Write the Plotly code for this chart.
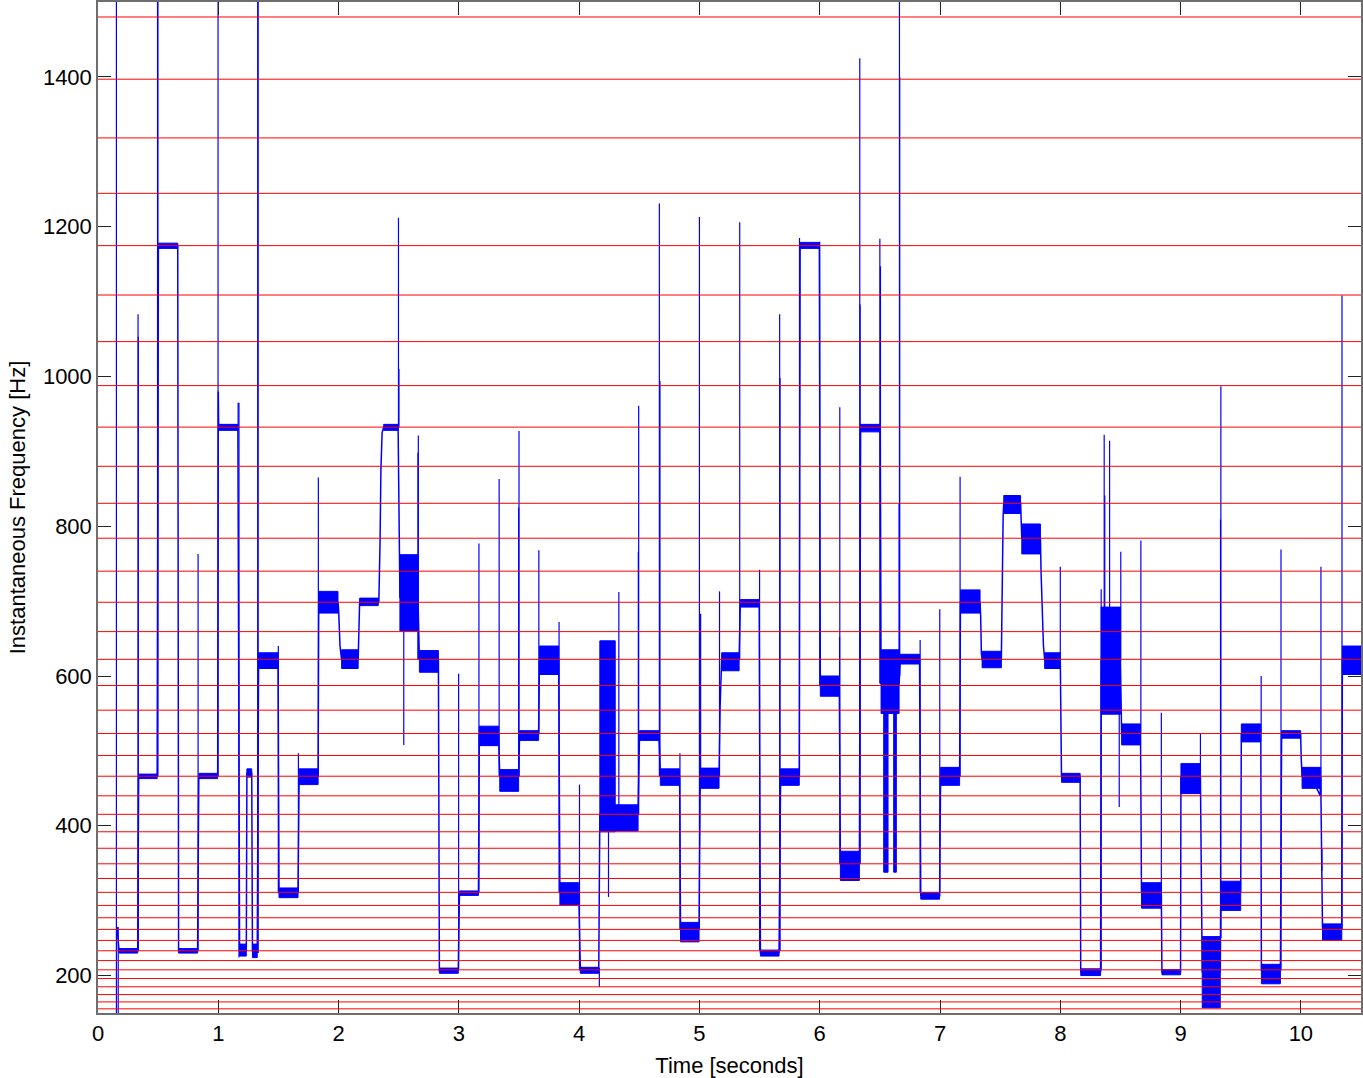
import plotly.graph_objects as go

# Equal-tempered note frequencies drawn as red reference lines (D#3 .. F#6)
note_lines_hz = [155.56, 164.81, 174.61, 185.00, 196.00, 207.65, 220.00, 233.08,
                 246.94, 261.63, 277.18, 293.66, 311.13, 329.63, 349.23, 369.99,
                 392.00, 415.30, 440.00, 466.16, 493.88, 523.25, 554.37, 587.33,
                 622.25, 659.26, 698.46, 739.99, 783.99, 830.61, 880.00, 932.33,
                 987.77, 1046.50, 1108.73, 1174.66, 1244.51, 1318.51, 1396.91, 1479.98]

# Sung notes: start [s], end [s], centre frequency [Hz], lower / upper edge of the vibrato band [Hz]
note_start = [0.175, 0.338, 0.502, 0.670, 0.838, 1.003, 1.177, 1.238, 1.284, 1.335,
              1.505, 1.672, 1.835, 2.025, 2.175, 2.375, 2.510, 2.672, 2.838, 3.005,
              3.170, 3.340, 3.505, 3.670, 3.840, 4.010, 4.172, 4.300, 4.502, 4.675,
              4.843, 5.007, 5.185, 5.340, 5.507, 5.675, 5.837, 6.005, 6.172, 6.340,
              6.510, 6.670, 6.840, 7.005, 7.170, 7.350, 7.530, 7.680, 7.870, 8.010,
              8.170, 8.340, 8.510, 8.675, 8.845, 9.003, 9.180, 9.335, 9.505, 9.672,
              9.840, 10.010, 10.180, 10.345]
note_end = [0.330, 0.492, 0.663, 0.828, 0.995, 1.163, 1.233, 1.278, 1.324, 1.497,
            1.663, 1.830, 1.995, 2.163, 2.330, 2.495, 2.660, 2.830, 2.995, 3.163,
            3.330, 3.497, 3.663, 3.830, 3.997, 4.163, 4.300, 4.490, 4.663, 4.835,
            4.997, 5.163, 5.330, 5.497, 5.662, 5.830, 5.997, 6.163, 6.330, 6.503,
            6.660, 6.830, 6.997, 7.163, 7.333, 7.510, 7.670, 7.835, 8.000, 8.165,
            8.335, 8.500, 8.667, 8.840, 9.000, 9.165, 9.330, 9.500, 9.667, 9.830,
            9.998, 10.165, 10.340, 10.500]
note_freq = [233, 466, 1175, 233, 466, 932, 233, 470, 233, 622,
             311, 466, 698, 622, 698, 932, 705, 622, 207, 311,
             523, 466, 523, 622, 311, 207, 415, 415, 523, 466,
             262, 466, 622, 698, 231, 466, 1175, 587, 349, 932,
             590, 622, 307, 466, 698, 622, 831, 784, 622, 466,
             205, 620, 523, 311, 205, 466, 205, 311, 523, 207,
             523, 466, 262, 622]
note_lo = [230, 463, 1171, 230, 463, 928, 226, 465, 224, 610,
           304, 455, 684, 610, 694, 928, 660, 605, 203, 307,
           507, 446, 514, 602, 294, 203, 392, 393, 514, 454,
           245, 450, 607, 692, 226, 454, 1171, 573, 327, 926,
           550, 616, 302, 454, 684, 611, 817, 763, 610, 458,
           200, 549, 508, 290, 201, 443, 157, 287, 512, 189,
           517, 450, 247, 602]
note_hi = [236, 469, 1178, 236, 470, 936, 242, 476, 242, 631,
           317, 476, 713, 635, 704, 936, 762, 634, 210, 313,
           533, 475, 527, 640, 324, 211, 647, 428, 527, 476,
           271, 477, 631, 702, 234, 476, 1179, 600, 366, 936,
           635, 629, 311, 478, 715, 633, 841, 803, 631, 470,
           209, 692, 536, 324, 208, 483, 252, 326, 536, 215,
           527, 478, 269, 640]

# Deep dips inside the octave-jump region around 6.5 s
dip_start = [6.532, 6.615]
dip_end = [6.568, 6.637]
dip_lo = [338, 338]
dip_hi = [600, 600]

# Glides between notes (time [s], frequency [Hz])
glide_time = [0.158, 0.168, 1.000, 2.000, 2.012, 2.170, 2.335, 2.345, 2.352, 2.362,
              5.172, 5.178, 7.338, 7.344, 7.515, 7.520, 7.525, 7.840, 7.850, 7.860,
              10.003, 10.100, 10.160]
glide_freq = [265, 250, 980, 690, 640, 672, 700, 780, 875, 925,
              560, 600, 680, 630, 700, 770, 815, 740, 676, 640,
              490, 462, 440]

# Transient spikes at note onsets (time [s], bottom [Hz], top [Hz])
spike_time = [0.153, 0.168, 0.333, 0.335, 0.495, 0.498, 0.832, 0.998, 1.165, 1.172,
              1.328, 1.331, 1.499, 1.666, 1.832, 2.498, 2.502, 2.542, 2.660, 2.663,
              2.998, 3.167, 3.335, 3.497, 3.500, 3.665, 3.833, 4.003, 4.168, 4.244,
              4.330, 4.492, 4.495, 4.667, 4.672, 4.838, 5.000, 5.010, 5.167, 5.335,
              5.500, 5.667, 5.670, 5.832, 6.000, 6.165, 6.167, 6.333, 6.336, 6.500,
              6.505, 6.660, 6.663, 6.665, 6.835, 6.998, 7.167, 8.000, 8.340, 8.365,
              8.370, 8.410, 8.490, 8.503, 8.670, 8.840, 9.165, 9.332, 9.335, 9.670,
              9.835, 10.167, 10.175, 10.342]
spike_lo = [140, 140, 233, 233, 466, 466, 233, 466, 932, 224,
            230, 230, 310, 311, 466, 932, 932, 508, 622, 622,
            207, 311, 466, 466, 466, 523, 311, 207, 185, 305,
            420, 415, 415, 466, 466, 262, 262, 466, 466, 622,
            233, 233, 233, 466, 587, 587, 349, 349, 349, 590,
            590, 600, 600, 600, 311, 311, 466, 622, 207, 620,
            620, 620, 425, 620, 523, 311, 466, 250, 250, 523,
            207, 440, 340, 262]
spike_hi = [1510, 265, 1083, 1053, 1510, 1510, 763, 1510, 965, 965,
            1510, 1510, 640, 497, 865, 1212, 1010, 700, 898, 921,
            603, 777, 863, 825, 927, 768, 672, 455, 210, 400,
            712, 766, 961, 1231, 994, 497, 1213, 683, 713, 1206,
            742, 1083, 998, 1185, 1180, 652, 959, 1425, 1096, 1184,
            1147, 830, 1510, 1400, 648, 689, 866, 746, 716, 922,
            841, 914, 620, 766, 781, 551, 523, 809, 987, 600,
            769, 746, 370, 1108]

x_ticks = list(range(0, 11))
y_ticks = [200, 400, 600, 800, 1000, 1200, 1400]

BLUE = "#0000ff"

# ---- main pitch contour: note plateaus + glides, ordered by time ----
pts = []
for s, e, f in zip(note_start, note_end, note_freq):
    pts.append((s, f))
    pts.append((e, f))
for t, f in zip(glide_time, glide_freq):
    pts.append((t, f))
pts.sort(key=lambda p: p[0])
path_x = [p[0] for p in pts]
path_y = [p[1] for p in pts]

# ---- vibrato bands as filled rectangles ----
band_x, band_y = [], []
for s, e, lo, hi in list(zip(note_start, note_end, note_lo, note_hi)) + \
        list(zip(dip_start, dip_end, dip_lo, dip_hi)):
    band_x += [s, e, e, s, s, None]
    band_y += [lo, lo, hi, hi, lo, None]

# ---- spikes ----
sp_x, sp_y = [], []
for t, lo, hi in zip(spike_time, spike_lo, spike_hi):
    sp_x += [t, t, None]
    sp_y += [lo, hi, None]

fig = go.Figure()
fig.add_trace(go.Scatter(x=band_x, y=band_y, mode="lines", fill="toself",
                         fillcolor=BLUE, line=dict(color=BLUE, width=1),
                         hoverinfo="skip", showlegend=False))
fig.add_trace(go.Scatter(x=sp_x, y=sp_y, mode="lines",
                         line=dict(color=BLUE, width=1.2),
                         hoverinfo="skip", showlegend=False))
fig.add_trace(go.Scatter(x=path_x, y=path_y, mode="lines",
                         line=dict(color=BLUE, width=1.5),
                         showlegend=False))

# red reference lines on top
for hz in note_lines_hz:
    fig.add_shape(type="line", xref="paper", x0=0, x1=1, yref="y", y0=hz, y1=hz,
                  line=dict(color="#ff0000", width=1), layer="above")

font = dict(family="Liberation Sans, Arial, Helvetica, sans-serif", size=22, color="black")
axis_common = dict(showgrid=False, zeroline=False, showline=True, linecolor="#6e6e6e",
                   linewidth=1.5, ticks="inside", ticklen=13, tickwidth=1,
                   tickcolor="#222222", mirror="allticks", tickfont=font)

fig.update_layout(
    width=1363, height=1078,
    margin=dict(l=98, r=1, t=0, b=65),
    paper_bgcolor="white", plot_bgcolor="white",
    font=font,
    xaxis=dict(range=[0, 10.5], tickvals=x_ticks, ticktext=[str(v) for v in x_ticks],
               title=dict(text="Time [seconds]", font=font, standoff=12),
               **axis_common),
    yaxis=dict(range=[150, 1500], tickvals=y_ticks, ticktext=[str(v) for v in y_ticks],
               title=dict(text="Instantaneous Frequency [Hz]", font=font, standoff=11),
               **axis_common),
)

fig.write_html("out.html",
               config={"displayModeBar": False},
               post_script="document.body.style.margin='0';document.body.style.overflow='hidden';")
